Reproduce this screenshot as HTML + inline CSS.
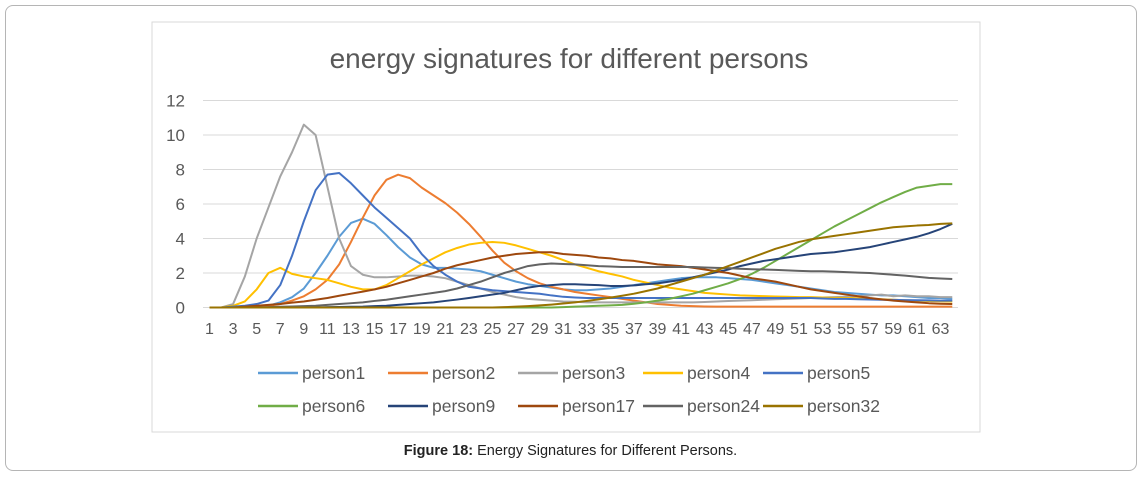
<!DOCTYPE html>
<html><head><meta charset="utf-8">
<style>
body{margin:0;background:#fff;width:1141px;height:478px;overflow:hidden;font-family:"Liberation Sans",Arial,sans-serif;}
#outer{position:absolute;left:5px;top:5px;width:1130px;height:464px;border:1px solid #b5b5b5;border-radius:8px;}
#caption{position:absolute;left:0;width:1141px;top:443px;text-align:center;font-size:14.5px;color:#222;}
</style></head><body>
<div id="outer"></div>
<svg id="chart" width="1141" height="478" style="position:absolute;left:0;top:0">
<rect x="152" y="22" width="828" height="410" fill="#fff" stroke="#d9d9d9"/>
<text x="569" y="68" text-anchor="middle" font-size="28" fill="#595959" font-family="Liberation Sans, sans-serif">energy signatures for different persons</text>
<g id="grid"></g><g id="yt"></g><g id="xt"></g><g id="lines"></g><g id="legend"></g>
</svg>
<div id="caption"><b>Figure 18:</b> Energy Signatures for Different Persons.</div>
<script>
const seriesNames=["person1","person2","person3","person4","person5","person6","person9","person17","person24","person32"];
const seriesColors=["#5B9BD5","#ED7D31","#A5A5A5","#FFC000","#4472C4","#70AD47","#264478","#9E480E","#636363","#997300"];
const yTicks=[0,2,4,6,8,10,12];
const p1=[0,0,0,0,0.05,0.1,0.3,0.6,1.1,2,3,4.1,4.9,5.15,4.85,4.2,3.5,2.9,2.5,2.3,2.3,2.25,2.2,2.1,1.9,1.7,1.5,1.35,1.25,1.15,1.05,1.0,1.0,1.05,1.1,1.2,1.3,1.4,1.5,1.6,1.7,1.75,1.75,1.75,1.7,1.65,1.6,1.5,1.4,1.3,1.2,1.1,1.0,0.9,0.85,0.8,0.75,0.7,0.7,0.65,0.6,0.55,0.55,0.5];
const p2=[0,0,0,0,0.05,0.1,0.2,0.4,0.65,1.05,1.6,2.5,3.8,5.2,6.5,7.4,7.7,7.5,6.95,6.5,6.05,5.5,4.85,4.1,3.3,2.6,2.1,1.7,1.4,1.2,1.05,0.9,0.8,0.7,0.6,0.5,0.4,0.3,0.2,0.15,0.1,0.08,0.06,0.05,0.05,0.05,0.05,0.05,0.05,0.05,0.05,0.05,0.05,0.05,0.05,0.05,0.05,0.05,0.05,0.05,0.05,0.05,0.05,0.05];
const p3=[0,0,0.2,1.8,4,5.8,7.6,9,10.6,10,7,4,2.4,1.9,1.75,1.75,1.8,1.85,1.85,1.8,1.7,1.5,1.3,1.1,0.9,0.75,0.6,0.5,0.45,0.4,0.35,0.33,0.3,0.3,0.3,0.3,0.3,0.3,0.3,0.3,0.3,0.3,0.32,0.35,0.38,0.4,0.42,0.45,0.48,0.5,0.52,0.55,0.58,0.6,0.62,0.65,0.7,0.75,0.65,0.7,0.65,0.65,0.6,0.6];
const p4=[0,0,0.1,0.35,1.05,2,2.3,1.95,1.8,1.7,1.6,1.4,1.2,1.05,1.05,1.3,1.7,2.1,2.5,2.85,3.2,3.45,3.65,3.75,3.8,3.75,3.6,3.4,3.2,3.0,2.75,2.5,2.3,2.1,1.95,1.8,1.6,1.45,1.3,1.15,1.05,0.95,0.85,0.8,0.75,0.7,0.68,0.66,0.64,0.62,0.6,0.6,0.58,0.56,0.55,0.53,0.5,0.48,0.45,0.42,0.4,0.38,0.36,0.35];
const p5=[0,0,0.05,0.1,0.2,0.4,1.3,3,5,6.8,7.7,7.8,7.2,6.5,5.8,5.2,4.6,4,3.1,2.4,1.9,1.5,1.2,1.1,1.0,0.95,0.9,0.85,0.8,0.7,0.62,0.58,0.55,0.55,0.55,0.55,0.55,0.55,0.55,0.55,0.55,0.55,0.55,0.55,0.55,0.55,0.55,0.55,0.55,0.55,0.55,0.55,0.52,0.5,0.5,0.48,0.46,0.45,0.44,0.43,0.42,0.41,0.4,0.4];
const p6=[0,0,0,0,0,0,0,0,0,0,0,0,0,0,0,0,0,0,0,0,0,0,0,0,0,0,0,0,0,0,0.02,0.05,0.07,0.1,0.12,0.15,0.22,0.3,0.4,0.5,0.65,0.8,1.0,1.2,1.4,1.65,1.95,2.3,2.7,3.1,3.5,3.9,4.3,4.7,5.05,5.4,5.75,6.1,6.4,6.7,6.95,7.05,7.15,7.15];
const p9=[0,0,0,0,0,0,0,0,0,0,0.02,0.03,0.04,0.05,0.08,0.1,0.15,0.2,0.25,0.3,0.38,0.46,0.55,0.65,0.75,0.85,1.0,1.15,1.25,1.3,1.35,1.35,1.32,1.3,1.25,1.25,1.28,1.35,1.4,1.5,1.6,1.75,1.9,2.05,2.2,2.4,2.55,2.7,2.8,2.9,3.0,3.1,3.15,3.2,3.3,3.4,3.5,3.65,3.8,3.95,4.1,4.3,4.55,4.85];
const p17=[0,0,0,0.05,0.1,0.15,0.2,0.28,0.35,0.45,0.55,0.68,0.8,0.92,1.05,1.2,1.4,1.6,1.8,2.0,2.25,2.45,2.6,2.75,2.9,3.0,3.1,3.15,3.2,3.2,3.1,3.05,3.0,2.9,2.85,2.75,2.7,2.6,2.5,2.45,2.4,2.3,2.2,2.1,2.0,1.85,1.7,1.6,1.5,1.35,1.2,1.05,0.95,0.85,0.75,0.65,0.55,0.47,0.4,0.35,0.3,0.25,0.22,0.2];
const p24=[0,0,0,0,0,0.02,0.04,0.06,0.08,0.1,0.15,0.2,0.25,0.3,0.38,0.45,0.55,0.65,0.75,0.85,0.95,1.1,1.3,1.5,1.75,2.0,2.2,2.4,2.5,2.55,2.52,2.5,2.45,2.4,2.38,2.35,2.35,2.35,2.35,2.35,2.35,2.35,2.32,2.3,2.28,2.25,2.22,2.2,2.18,2.15,2.12,2.1,2.1,2.08,2.05,2.02,2.0,1.95,1.9,1.85,1.78,1.72,1.68,1.65];
const p32=[0,0,0,0,0,0,0,0,0,0,0,0,0,0,0,0,0,0,0,0,0,0,0,0,0,0.02,0.05,0.08,0.12,0.17,0.23,0.3,0.38,0.47,0.57,0.68,0.8,0.95,1.1,1.3,1.5,1.7,1.9,2.15,2.4,2.65,2.9,3.15,3.4,3.6,3.8,3.95,4.05,4.15,4.25,4.35,4.45,4.55,4.65,4.7,4.75,4.78,4.85,4.88];
const seriesValues=[p1,p2,p3,p4,p5,p6,p9,p17,p24,p32];
const NS="http://www.w3.org/2000/svg";
const X0=209.5,DX=11.79,Y0=307.5,YS=17.25;
function xs(i){return X0+i*DX;}
function ys(v){return Y0-v*YS;}
function mk(tag,attrs,parent){const e=document.createElementNS(NS,tag);for(const k in attrs)e.setAttribute(k,attrs[k]);parent.appendChild(e);return e;}
const grid=document.getElementById('grid'),yt=document.getElementById('yt'),xt=document.getElementById('xt'),lines=document.getElementById('lines'),legend=document.getElementById('legend');
yTicks.forEach(t=>{
  const l=mk('line',{x1:203,x2:958,y1:ys(t),y2:ys(t),stroke:'#d9d9d9','stroke-width':1},grid);
  
  
  const tx=mk('text',{x:185,y:ys(t)+6,'text-anchor':'end','font-size':17,fill:'#595959'},yt);
  tx.textContent=t;
  
  
});
const n=p1.length;
for(let i=0;i<n;i+=2){
  const tx=mk('text',{x:xs(i),y:334,'text-anchor':'middle','font-size':16,fill:'#595959'},xt);
  tx.textContent=i+1;
  
  
}
seriesValues.forEach((vals,s)=>{
  const d=vals.map((v,i)=>(i?'L':'M')+xs(i).toFixed(2)+','+ys(v).toFixed(2)).join(' ');
  const p=mk('path',{d:d,fill:'none',stroke:seriesColors[s],'stroke-width':2,'stroke-linejoin':'round'},lines);
  
  
});
const legX=[258,388,518,643,763];
seriesNames.forEach((nm,s)=>{
  const row=Math.floor(s/5),col=s%5,x=legX[col],y=row?406:373;
  const g=mk('g',{},legend);
  
  
  mk('line',{x1:x,x2:x+40,y1:y,y2:y,stroke:seriesColors[s],'stroke-width':2.5},g);
  const t=mk('text',{x:x+44,y:y+6,'font-size':17.5,fill:'#595959'},g);
  t.textContent=nm;
});
</script>
</body></html>
